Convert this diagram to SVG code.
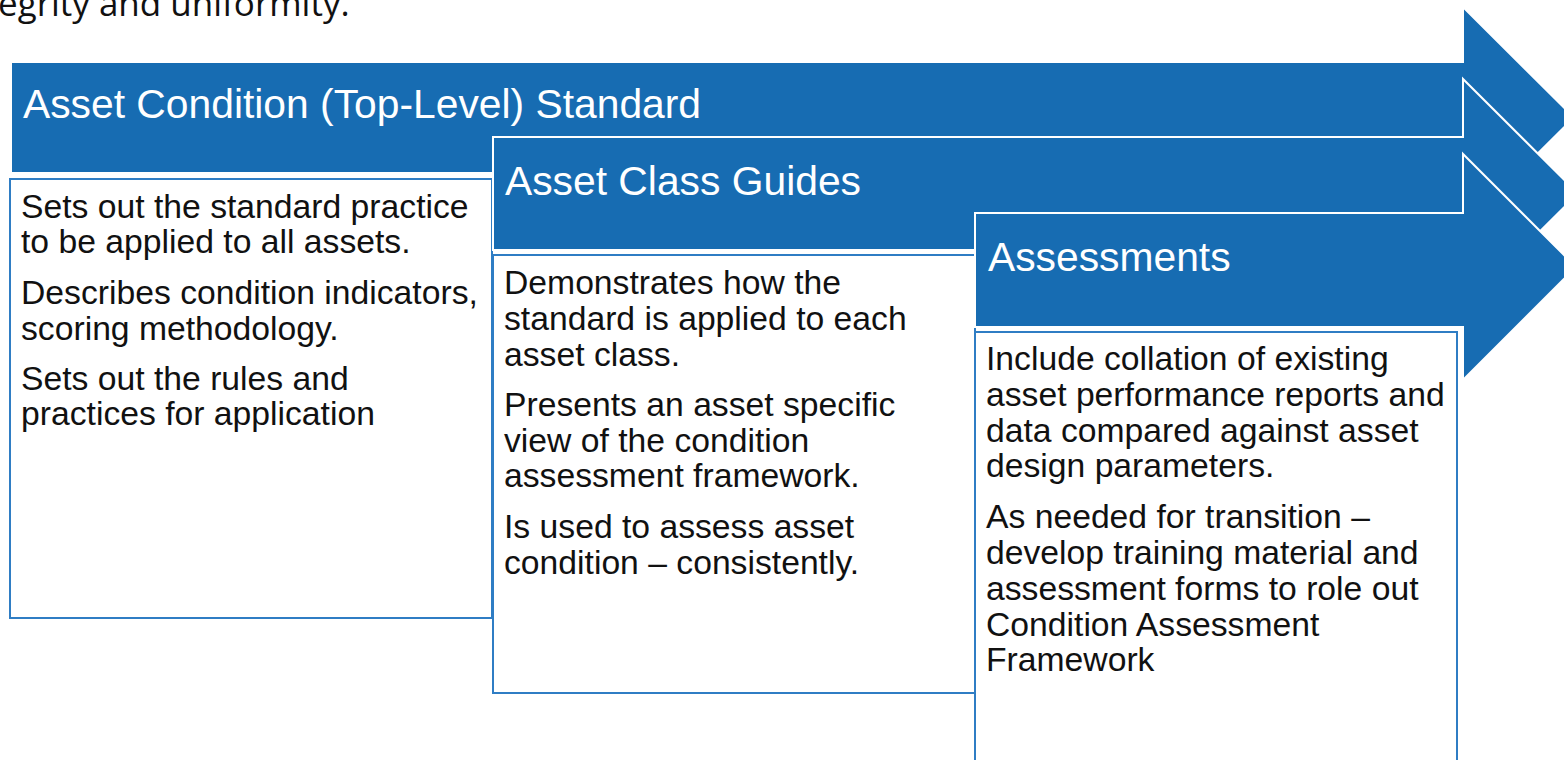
<svg xmlns="http://www.w3.org/2000/svg" width="1564" height="760" viewBox="0 0 1564 760">
<style>
.arrow{fill:#176cb2;stroke:#ffffff;stroke-width:2;stroke-linejoin:miter}
.box{fill:#ffffff;stroke:#2f7dc4;stroke-width:2}
.hd{font-family:"Liberation Sans",Arial,sans-serif;font-size:40.8px;fill:#ffffff}
.bd{font-family:"Liberation Sans",Arial,sans-serif;font-size:33.7px;fill:#111111}
.top{font-family:"Open Sans","Liberation Sans",sans-serif;font-size:35px;fill:#111111}
</style>
<text class="top" x="-2" y="16">egrity and uniformity.</text>
<g id="stage1">
<polygon class="arrow" points="11,62 1463,62 1463,7 1574,117.5 1463,228 1463,173 11,173"/>
<text class="hd" x="23" y="118">Asset Condition (Top-Level) Standard</text>
<rect class="box" x="10" y="179" width="482" height="439"/>
<text class="bd" x="21" y="218">Sets out the standard practice</text>
<text class="bd" x="21" y="253">to be applied to all assets.</text>
<text class="bd" x="21" y="304">Describes condition indicators,</text>
<text class="bd" x="21" y="340">scoring methodology.</text>
<text class="bd" x="21" y="390">Sets out the rules and</text>
<text class="bd" x="21" y="425">practices for application</text>
</g>
<g id="stage2">
<polygon class="arrow" points="493,137 1463,137 1463,79 1578,193.5 1463,308 1463,250 493,250"/>
<text class="hd" x="505" y="195">Asset Class Guides</text>
<rect class="box" x="493" y="255" width="482" height="438"/>
<text class="bd" x="504" y="294">Demonstrates how the</text>
<text class="bd" x="504" y="330">standard is applied to each</text>
<text class="bd" x="504" y="366">asset class.</text>
<text class="bd" x="504" y="416">Presents an asset specific</text>
<text class="bd" x="504" y="452">view of the condition</text>
<text class="bd" x="504" y="487">assessment framework.</text>
<text class="bd" x="504" y="538">Is used to assess asset</text>
<text class="bd" x="504" y="574">condition – consistently.</text>
</g>
<g id="stage3">
<polygon class="arrow" points="975,213 1463,213 1463,154 1576,267 1463,380 1463,327 975,327"/>
<text class="hd" x="988" y="271">Assessments</text>
<rect class="box" x="975" y="332" width="482" height="440"/>
<text class="bd" x="986" y="370">Include collation of existing</text>
<text class="bd" x="986" y="406">asset performance reports and</text>
<text class="bd" x="986" y="442">data compared against asset</text>
<text class="bd" x="986" y="477">design parameters.</text>
<text class="bd" x="986" y="528">As needed for transition –</text>
<text class="bd" x="986" y="564">develop training material and</text>
<text class="bd" x="986" y="600">assessment forms to role out</text>
<text class="bd" x="986" y="636">Condition Assessment</text>
<text class="bd" x="986" y="671">Framework</text>
</g>
<g id="connectors"></g>
</svg>
